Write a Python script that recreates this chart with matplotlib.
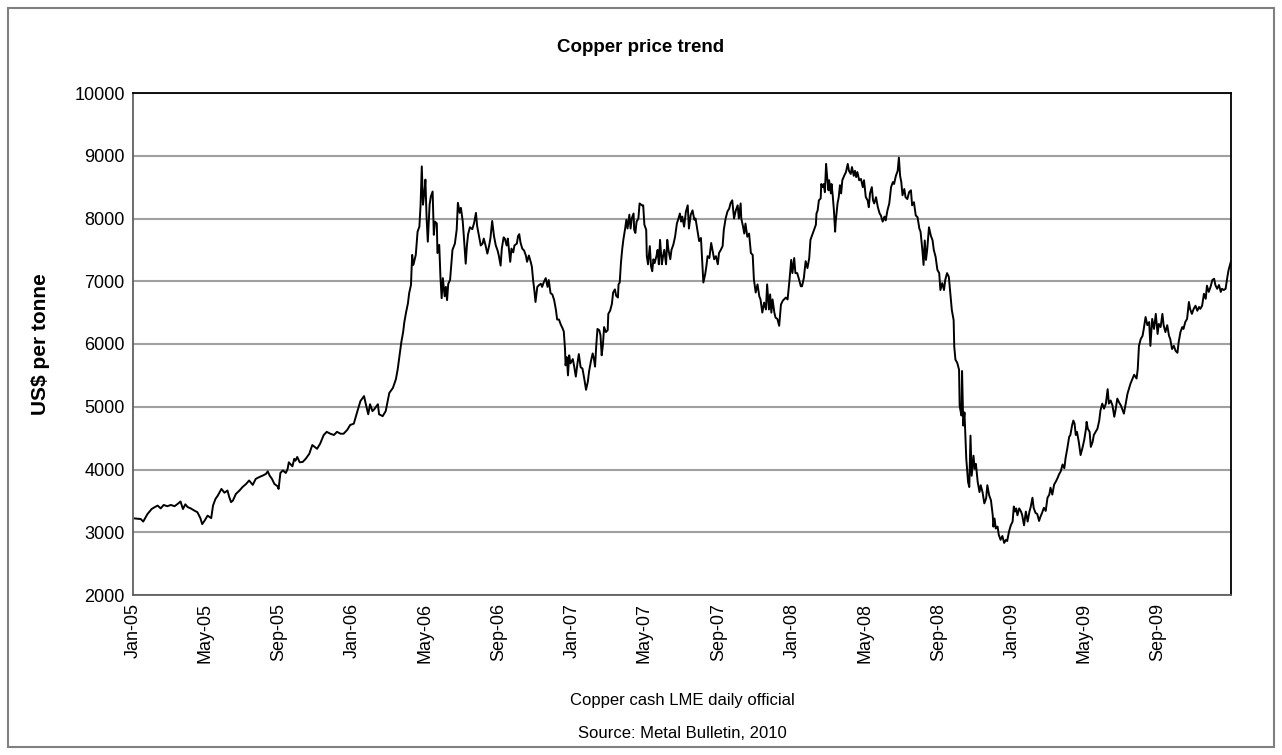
import matplotlib
matplotlib.use("Agg")
import matplotlib.pyplot as plt
import matplotlib.dates as mdates
import pandas as pd
from matplotlib.patches import Rectangle

plt.rcParams['font.family'] = ['Liberation Sans', 'DejaVu Sans']

# LME copper cash price (US$ per tonne)
days_2005 = ['01-04', '01-14', '01-18', '01-25', '02-01', '02-06', '02-11', '02-16', '02-21', '02-27',
             '03-05', '03-11', '03-16', '03-21', '03-25', '03-29', '04-02', '04-07', '04-13', '04-18',
             '04-23', '04-26', '04-30', '05-05', '05-11', '05-14', '05-18', '05-22', '05-28', '06-02',
             '06-07', '06-10', '06-13', '06-16', '06-21', '06-27', '07-02', '07-08', '07-13', '07-19',
             '07-24', '07-30', '08-05', '08-10', '08-13', '08-16', '08-20', '08-24', '08-29', '08-31',
             '09-03', '09-07', '09-12', '09-15', '09-17', '09-23', '09-26', '09-28', '10-01', '10-05',
             '10-10', '10-15', '10-21', '10-26', '11-03', '11-08', '11-14', '11-19', '11-25', '12-01',
             '12-06', '12-12', '12-17', '12-23', '12-28']
price_2005 = [3220, 3210, 3170, 3290, 3370, 3400, 3425, 3380, 3435, 3415,
              3435, 3415, 3450, 3490, 3370, 3445, 3400, 3380, 3345, 3320,
              3225, 3130, 3185, 3265, 3225, 3425, 3530, 3585, 3690, 3630,
              3665, 3560, 3480, 3505, 3610, 3665, 3720, 3770, 3825, 3755,
              3850, 3880, 3905, 3930, 3970, 3905, 3850, 3770, 3735, 3690,
              3945, 3985, 3945, 4010, 4115, 4050, 4170, 4140, 4200, 4115,
              4120, 4170, 4250, 4390, 4330, 4410, 4550, 4600, 4570, 4550,
              4600, 4570, 4570, 4630, 4710]

days_2006 = ['01-03', '01-09', '01-14', '01-20', '01-23', '01-27', '01-30', '02-03', '02-06', '02-12',
             '02-14', '02-20', '02-25', '03-03', '03-09', '03-14', '03-17', '03-20', '03-23', '03-26',
             '03-28', '03-31', '04-03', '04-05', '04-08', '04-10', '04-12', '04-16', '04-19', '04-22',
             '04-24', '04-26', '04-28', '05-01', '05-02', '05-04', '05-06', '05-09', '05-11', '05-14',
             '05-16', '05-18', '05-21', '05-22', '05-25', '05-27', '05-29', '05-31', '06-03', '06-05',
             '06-07', '06-09', '06-12', '06-16', '06-20', '06-23', '06-25', '06-28', '06-30', '07-03',
             '07-05', '07-08', '07-10', '07-12', '07-15', '07-19', '07-22', '07-25', '07-27', '07-30',
             '08-02', '08-05', '08-07', '08-10', '08-13', '08-16', '08-18', '08-21', '08-24', '08-27',
             '08-30', '09-01', '09-04', '09-06', '09-09', '09-11', '09-14', '09-16', '09-20', '09-22',
             '09-25', '09-27', '10-01', '10-03', '10-05', '10-07', '10-10', '10-13', '10-16', '10-18',
             '10-21', '10-24', '10-26', '10-28', '10-30', '11-01', '11-04', '11-07', '11-10', '11-12',
             '11-15', '11-18', '11-21', '11-23', '11-26', '11-29', '12-02', '12-05', '12-07', '12-10',
             '12-13', '12-16', '12-18', '12-20', '12-21', '12-23', '12-25', '12-27', '12-29']
price_2006 = [4730, 4930, 5090, 5170, 5040, 4880, 5040, 4930, 4960, 5040,
              4880, 4850, 4930, 5220, 5300, 5440, 5600, 5810, 6030, 6190,
              6350, 6510, 6650, 6810, 6940, 7420, 7260, 7420, 7790, 7870,
              8220, 8830, 8220, 8490, 8620, 8010, 7630, 8220, 8350, 8430,
              7740, 7950, 7920, 7450, 7580, 7070, 6730, 7050, 6760, 6910,
              6700, 6960, 7020, 7500, 7600, 7820, 8250, 8090, 8170, 7960,
              7700, 7280, 7570, 7750, 7860, 7830, 7930, 8090, 7880, 7720,
              7570, 7600, 7680, 7570, 7440, 7570, 7680, 7960, 7720, 7570,
              7490, 7410, 7250, 7520, 7700, 7680, 7570, 7680, 7310, 7520,
              7460, 7570, 7600, 7720, 7750, 7620, 7520, 7490, 7410, 7310,
              7410, 7310, 7230, 7020, 6860, 6670, 6910, 6940, 6960, 6910,
              6990, 7050, 6910, 7020, 6810, 6790, 6700, 6540, 6390, 6390,
              6310, 6250, 6200, 5930, 5660, 5790, 5500, 5820, 5690]

days_2007 = ['01-02', '01-04', '01-07', '01-10', '01-12', '01-15', '01-18', '01-21', '01-24', '01-27',
             '01-29', '02-01', '02-04', '02-06', '02-08', '02-10', '02-12', '02-15', '02-17', '02-19',
             '02-21', '02-23', '02-26', '03-01', '03-02', '03-05', '03-08', '03-10', '03-13', '03-15',
             '03-18', '03-19', '03-21', '03-23', '03-25', '03-27', '03-30', '04-01', '04-03', '04-06',
             '04-08', '04-10', '04-13', '04-14', '04-16', '04-18', '04-21', '04-23', '04-27', '04-29',
             '05-01', '05-04', '05-05', '05-07', '05-10', '05-12', '05-14', '05-16', '05-18', '05-21',
             '05-23', '05-25', '05-27', '05-30', '06-01', '06-03', '06-06', '06-08', '06-10', '06-13',
             '06-15', '06-18', '06-21', '06-24', '06-26', '06-29', '07-01', '07-03', '07-06', '07-09',
             '07-12', '07-14', '07-17', '07-20', '07-23', '07-25', '07-28', '07-31', '08-03', '08-05',
             '08-07', '08-10', '08-12', '08-14', '08-17', '08-20', '08-23', '08-25', '08-28', '08-31',
             '09-02', '09-05', '09-08', '09-10', '09-13', '09-16', '09-19', '09-21', '09-24', '09-27',
             '09-30', '10-03', '10-05', '10-08', '10-09', '10-12', '10-14', '10-16', '10-19', '10-22',
             '10-25', '10-28', '10-30', '11-02', '11-05', '11-08', '11-10', '11-13', '11-16', '11-19',
             '11-21', '11-24', '11-26', '11-28', '11-30', '12-03', '12-05', '12-08', '12-11', '12-14',
             '12-17', '12-19', '12-22', '12-25', '12-28', '12-31']
price_2007 = [5760, 5660, 5480, 5710, 5840, 5630, 5610, 5450, 5270, 5400,
              5560, 5720, 5850, 5770, 5640, 5980, 6240, 6220, 6140, 5820,
              5980, 6270, 6190, 6220, 6480, 6530, 6640, 6820, 6870, 6770,
              6740, 6950, 6980, 7290, 7500, 7660, 7840, 7980, 7840, 8060,
              7840, 8000, 8080, 7820, 7770, 7950, 8000, 8240, 8210, 8210,
              7900, 7820, 7400, 7270, 7560, 7240, 7160, 7350, 7290, 7400,
              7500, 7270, 7660, 7270, 7400, 7500, 7270, 7660, 7500, 7350,
              7500, 7580, 7710, 7920, 7980, 8080, 7950, 8030, 7870, 8110,
              8210, 7840, 8060, 8130, 7980, 8000, 7820, 7640, 7690, 7350,
              6980, 7110, 7240, 7400, 7370, 7610, 7450, 7350, 7400, 7270,
              7450, 7500, 7560, 7820, 8000, 8110, 8160, 8240, 8290, 8000,
              8130, 8210, 8000, 8240, 8000, 7870, 7760, 7920, 7710, 7760,
              7450, 7420, 7030, 6820, 6950, 6760, 6710, 6500, 6660, 6550,
              6950, 6550, 6790, 6500, 6710, 6500, 6420, 6400, 6290, 6630,
              6690, 6710, 6740, 6710, 7000, 7340]

days_2008 = ['01-02', '01-05', '01-07', '01-10', '01-13', '01-16', '01-18', '01-21', '01-24', '01-27',
             '01-30', '02-01', '02-04', '02-07', '02-10', '02-11', '02-13', '02-15', '02-18', '02-19',
             '02-21', '02-23', '02-25', '02-27', '02-29', '03-02', '03-03', '03-06', '03-07', '03-09',
             '03-11', '03-13', '03-14', '03-17', '03-19', '03-21', '03-23', '03-25', '03-28', '03-31',
             '04-03', '04-05', '04-08', '04-10', '04-13', '04-15', '04-17', '04-19', '04-22', '04-25',
             '04-28', '04-30', '05-03', '05-06', '05-08', '05-10', '05-13', '05-15', '05-17', '05-20',
             '05-23', '05-26', '05-28', '05-31', '06-03', '06-05', '06-08', '06-11', '06-14', '06-17',
             '06-19', '06-22', '06-25', '06-27', '06-29', '07-01', '07-03', '07-06', '07-08', '07-11',
             '07-14', '07-17', '07-19', '07-22', '07-25', '07-28', '07-31', '08-02', '08-05', '08-07',
             '08-09', '08-11', '08-13', '08-16', '08-19', '08-22', '08-24', '08-27', '08-30', '09-02',
             '09-04', '09-07', '09-10', '09-12', '09-15', '09-18', '09-21', '09-23', '09-26', '09-27',
             '09-29', '10-02', '10-05', '10-06', '10-09', '10-10', '10-12', '10-14', '10-16', '10-17',
             '10-20', '10-22', '10-24', '10-26', '10-29', '10-31', '11-02', '11-05', '11-08', '11-10',
             '11-13', '11-16', '11-19', '11-21', '11-24', '11-27', '11-30', '12-01', '12-03', '12-05',
             '12-08', '12-10', '12-13', '12-16', '12-19', '12-22', '12-24', '12-27', '12-30']
price_2008 = [7130, 7370, 7130, 7130, 7030, 6920, 6920, 7050, 7320, 7210,
              7370, 7660, 7740, 7820, 7900, 8080, 8130, 8290, 8320, 8550,
              8500, 8550, 8420, 8870, 8630, 8450, 8610, 8400, 8550, 8370,
              8130, 7790, 7950, 8240, 8340, 8530, 8400, 8610, 8680, 8740,
              8870, 8760, 8710, 8820, 8680, 8760, 8660, 8740, 8610, 8630,
              8500, 8610, 8340, 8290, 8180, 8400, 8500, 8290, 8240, 8340,
              8180, 8080, 8050, 7950, 8030, 7970, 8130, 8240, 8500, 8580,
              8550, 8680, 8760, 8970, 8680, 8580, 8370, 8470, 8340, 8310,
              8420, 8450, 8210, 8260, 8050, 8020, 7840, 7790, 7500, 7260,
              7650, 7340, 7500, 7860, 7730, 7650, 7500, 7390, 7180, 7130,
              6860, 6970, 6860, 7020, 7130, 7070, 6760, 6540, 6380, 5960,
              5750, 5700, 5590, 5010, 4860, 5570, 4700, 4910, 4430, 4170,
              3800, 3720, 4540, 3900, 4220, 4010, 4090, 3800, 3640, 3750,
              3640, 3460, 3540, 3750, 3590, 3510, 3270, 3090, 3220, 3060,
              3090, 2960, 2880, 2940, 2830, 2880, 2860, 3010, 3110]

days_2009 = ['01-02', '01-04', '01-06', '01-08', '01-10', '01-13', '01-16', '01-18', '01-21', '01-24',
             '01-27', '01-30', '02-01', '02-04', '02-06', '02-09', '02-12', '02-15', '02-17', '02-20',
             '02-23', '02-26', '03-01', '03-04', '03-06', '03-09', '03-12', '03-15', '03-18', '03-20',
             '03-23', '03-26', '03-29', '03-31', '04-03', '04-06', '04-08', '04-11', '04-13', '04-15',
             '04-17', '04-19', '04-22', '04-25', '04-28', '05-01', '05-04', '05-05', '05-07', '05-10',
             '05-12', '05-15', '05-17', '05-20', '05-23', '05-26', '05-28', '05-31', '06-03', '06-06',
             '06-09', '06-11', '06-14', '06-17', '06-20', '06-22', '06-25', '06-28', '07-01', '07-06',
             '07-12', '07-17', '07-23', '07-27', '07-29', '07-31', '08-03', '08-06', '08-08', '08-11',
             '08-14', '08-17', '08-19', '08-22', '08-25', '08-28', '08-31', '09-02', '09-05', '09-08',
             '09-10', '09-13', '09-16', '09-19', '09-21', '09-24', '09-27', '09-30', '10-03', '10-05',
             '10-08', '10-11', '10-13', '10-16', '10-19', '10-22', '10-24', '10-27', '10-30', '11-02',
             '11-05', '11-08', '11-10', '11-13', '11-16', '11-19', '11-21', '11-24', '11-27', '11-30',
             '12-03', '12-05', '12-08', '12-11', '12-14', '12-16', '12-19', '12-22', '12-25', '12-27',
             '12-30', '12-31']
price_2009 = [3170, 3410, 3330, 3380, 3270, 3380, 3330, 3270, 3110, 3330,
              3170, 3330, 3400, 3550, 3390, 3310, 3290, 3180, 3240, 3310,
              3390, 3340, 3550, 3600, 3710, 3600, 3760, 3810, 3870, 3920,
              3970, 4080, 4020, 4180, 4340, 4520, 4550, 4710, 4780, 4730,
              4550, 4600, 4440, 4230, 4340, 4470, 4650, 4760, 4650, 4600,
              4360, 4440, 4550, 4600, 4650, 4780, 4940, 5050, 4970, 5050,
              5280, 5050, 5100, 5020, 4840, 4940, 5130, 5070, 5020, 4890,
              5210, 5370, 5510, 5450, 5600, 5970, 6080, 6130, 6240, 6430,
              6300, 6350, 5970, 6400, 6240, 6480, 6160, 6320, 6270, 6480,
              6300, 6190, 6300, 6130, 6080, 5920, 5970, 5890, 5860, 6030,
              6190, 6270, 6240, 6350, 6400, 6670, 6560, 6480, 6560, 6610,
              6530, 6590, 6560, 6610, 6800, 6720, 6930, 6830, 6910, 7020,
              7040, 6940, 6880, 6940, 6830, 6880, 6860, 6880, 7070, 7180,
              7290, 7320]

years = [(2005, days_2005, price_2005), (2006, days_2006, price_2006),
         (2007, days_2007, price_2007), (2008, days_2008, price_2008),
         (2009, days_2009, price_2009)]

dates = []
prices = []
for yr, days, vals in years:
    assert len(days) == len(vals), (yr, len(days), len(vals))
    dates += [f"{yr}-{d}" for d in days]
    prices += vals
dates = pd.to_datetime(dates)

fig = plt.figure(figsize=(12.82, 7.55), dpi=100)

# grey frame round the whole chart
fig.patches.append(Rectangle((8 / 1282, 8 / 755), 1266 / 1282, 739 / 755,
                             transform=fig.transFigure, fill=False,
                             edgecolor='#808080', lw=1.5))

ax = fig.add_axes([133 / 1282, 1 - 595 / 755, 1098 / 1282, 502 / 755])
ax.plot(dates, prices, color='black', lw=1.4)

ax.set_ylim(2000, 10000)
ax.set_yticks(range(2000, 10001, 1000))
ax.yaxis.grid(True, color='#a0a0a0', lw=1.5)
ax.set_axisbelow(True)

ax.set_xlim(pd.Timestamp('2005-01-01'), pd.Timestamp('2009-12-31'))
ax.xaxis.set_major_locator(mdates.MonthLocator(bymonth=[1, 5, 9]))
ax.xaxis.set_major_formatter(mdates.DateFormatter('%b-%y'))
plt.setp(ax.get_xticklabels(), rotation=90)
ax.tick_params(length=0, labelsize=13, pad=6)

for side in ['top', 'right']:
    ax.spines[side].set_color('black')
    ax.spines[side].set_linewidth(1.3)
for side in ['left', 'bottom']:
    ax.spines[side].set_color('#606060')
    ax.spines[side].set_linewidth(1.3)

fig.text(0.5, 1 - 47 / 755, 'Copper price trend', ha='center', va='center',
         fontsize=13.5, fontweight='bold')
fig.text(40 / 1282, 1 - 344 / 755, 'US$ per tonne', ha='center', va='center',
         rotation=90, fontsize=15, fontweight='bold')
fig.text(682 / 1282, 1 - 701 / 755, 'Copper cash LME daily official',
         ha='center', va='center', fontsize=12)
fig.text(682 / 1282, 1 - 733 / 755, 'Source: Metal Bulletin, 2010',
         ha='center', va='center', fontsize=12)

fig.savefig('out.png', dpi=100)
